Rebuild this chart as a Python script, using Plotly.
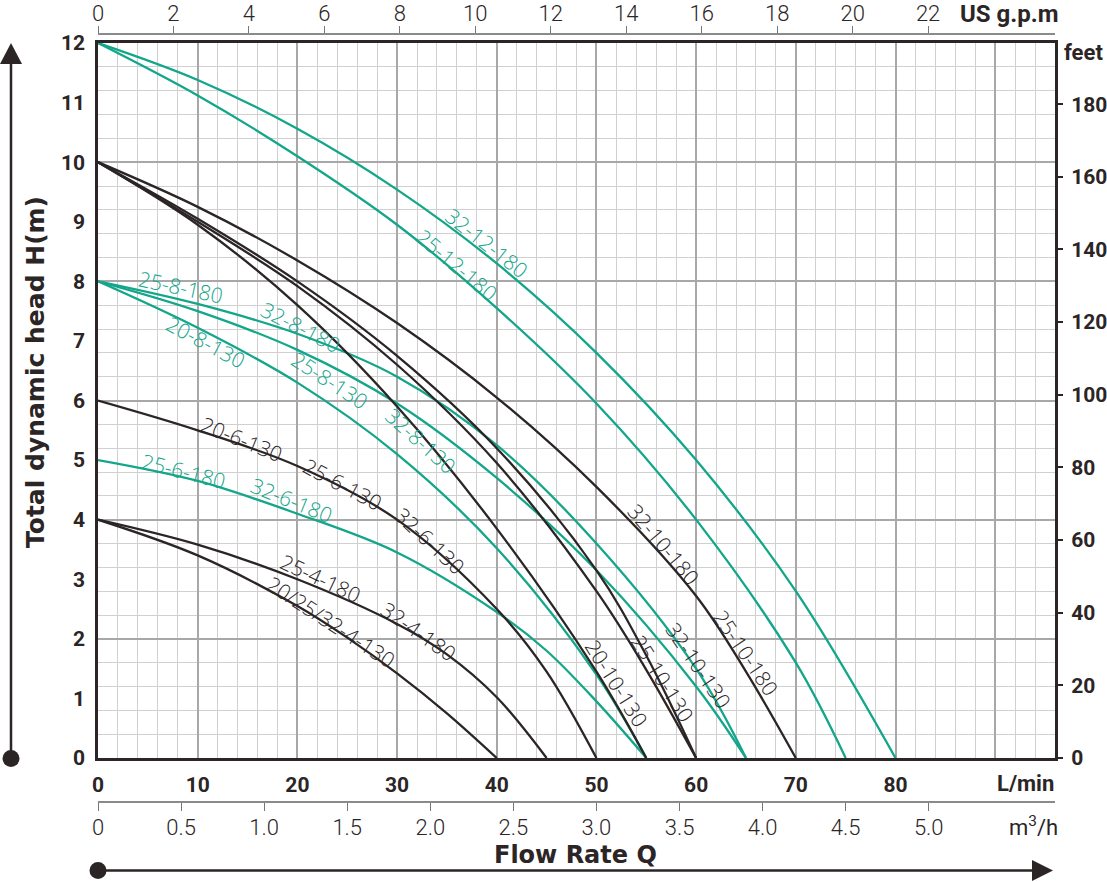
import plotly.graph_objects as go

W, H = 1107, 882
ML, MR, MT, MB = 98, 52, 34, 80
PW, PH = W - ML - MR, H - MT - MB

GREEN = "#13a68a"
BLACK = "#2b2526"

# ---------------- data (flow L/min, head m) ----------------
q_32_12_180 = [0, 10, 20, 30, 40, 50, 60, 70, 80]
h_32_12_180 = [12, 11.38, 10.56, 9.54, 8.30, 6.80, 5.0, 2.8, 0]

q_25_12_180 = [0, 10, 20, 30, 40, 50, 60, 70, 75]
h_25_12_180 = [12, 11.12, 10.1, 8.95, 7.55, 5.95, 4.0, 1.6, 0]

q_x_10_180 = [0, 10, 20, 30, 40, 50, 60, 65, 70]
h_x_10_180 = [10, 9.25, 8.35, 7.3, 6.05, 4.55, 2.72, 1.45, 0]

q_32_10_130 = [0, 10, 20, 30, 40, 50, 55, 60]
h_32_10_130 = [10, 9.05, 8.0, 6.75, 5.2, 3.15, 1.72, 0]

q_25_10_130 = [0, 10, 20, 30, 40, 50, 55, 60]
h_25_10_130 = [10, 9.0, 7.92, 6.6, 4.95, 2.8, 1.48, 0]

q_20_10_130 = [0, 10, 20, 30, 40, 50, 55]
h_20_10_130 = [10, 8.95, 7.6, 5.9, 3.85, 1.45, 0]

q_x_8_180 = [0, 10, 20, 30, 40, 50, 60, 65]
h_x_8_180 = [8, 7.62, 7.12, 6.4, 5.25, 3.6, 1.5, 0]

q_x_8_130 = [0, 10, 20, 30, 40, 50, 60, 65]
h_x_8_130 = [8, 7.5, 6.85, 5.95, 4.7, 3.15, 1.2, 0]

q_20_8_130 = [0, 10, 20, 30, 40, 50, 55]
h_20_8_130 = [8, 7.22, 6.3, 5.1, 3.52, 1.4, 0]

q_x_6_130 = [0, 10, 20, 30, 40, 45, 50]
h_x_6_130 = [6, 5.5, 4.9, 4.0, 2.5, 1.45, 0]

q_x_6_180 = [0, 10, 20, 30, 40, 45, 50, 55]
h_x_6_180 = [5, 4.65, 4.1, 3.45, 2.45, 1.8, 0.95, 0]

q_x_4_180 = [0, 10, 20, 30, 35, 40, 45]
h_x_4_180 = [4, 3.58, 3.0, 2.25, 1.74, 1.02, 0]

q_x_4_130 = [0, 10, 20, 25, 30, 35, 40]
h_x_4_130 = [4, 3.4, 2.55, 2.02, 1.42, 0.75, 0]

lmin_ticks = [0, 10, 20, 30, 40, 50, 60, 70, 80, 90]
lmin_text = ["0", "10", "20", "30", "40", "50", "60", "70", "80", ""]
head_ticks = list(range(0, 13))
feet_ticks = [0, 20, 40, 60, 80, 100, 120, 140, 160, 180]
gpm_ticks = [0, 2, 4, 6, 8, 10, 12, 14, 16, 18, 20, 22]
m3h_ticks = [0, 0.5, 1.0, 1.5, 2.0, 2.5, 3.0, 3.5, 4.0, 4.5, 5.0]
m3h_text = ["0", "0.5", "1.0", "1.5", "2.0", "2.5", "3.0", "3.5", "4.0", "4.5", "5.0"]

curves = [
    (q_32_12_180, h_32_12_180, GREEN),
    (q_25_12_180, h_25_12_180, GREEN),
    (q_x_8_180, h_x_8_180, GREEN),
    (q_x_8_130, h_x_8_130, GREEN),
    (q_20_8_130, h_20_8_130, GREEN),
    (q_x_6_180, h_x_6_180, GREEN),
    (q_x_10_180, h_x_10_180, BLACK),
    (q_32_10_130, h_32_10_130, BLACK),
    (q_25_10_130, h_25_10_130, BLACK),
    (q_20_10_130, h_20_10_130, BLACK),
    (q_x_6_130, h_x_6_130, BLACK),
    (q_x_4_180, h_x_4_180, BLACK),
    (q_x_4_130, h_x_4_130, BLACK),
]

# label placement: text, Q, H, angle, colour
labels = [
    ("32-12-180", 39.0, 8.64, 38, GREEN),
    ("25-12-180", 36.0, 8.27, 40, GREEN),
    ("25-8-180", 8.3, 7.9, 12, GREEN),
    ("32-8-180", 20.3, 7.23, 27, GREEN),
    ("20-8-130", 10.8, 6.98, 28, GREEN),
    ("25-8-130", 23.2, 6.34, 33, GREEN),
    ("32-8-130", 32.4, 5.32, 42, GREEN),
    ("25-6-180", 8.6, 4.82, 14, GREEN),
    ("32-6-180", 19.4, 4.33, 22, GREEN),
    ("20-6-130", 14.4, 5.35, 22, BLACK),
    ("25-6-130", 24.5, 4.6, 28, BLACK),
    ("32-6-130", 33.3, 3.64, 43, BLACK),
    ("25-4-180", 22.3, 3.02, 25, BLACK),
    ("32-4-180", 32.1, 2.13, 35, BLACK),
    ("20/25/32-4-130", 23.4, 2.28, 33, BLACK),
    ("32-10-180", 56.7, 3.59, 50, BLACK),
    ("25-10-180", 65.0, 1.76, 56, BLACK),
    ("32-10-130", 60.2, 1.56, 56, BLACK),
    ("25-10-130", 56.6, 1.34, 58, BLACK),
    ("20-10-130", 52.0, 1.26, 58, BLACK),
]

fig = go.Figure()

# dummy traces to register auxiliary axes
fig.add_trace(go.Scatter(x=[None], y=[None], xaxis="x", yaxis="y3", showlegend=False, hoverinfo="skip"))
fig.add_trace(go.Scatter(x=[None], y=[None], xaxis="x", yaxis="y2", showlegend=False, hoverinfo="skip"))
fig.add_trace(go.Scatter(x=[None], y=[None], xaxis="x2", yaxis="y", showlegend=False, hoverinfo="skip"))
fig.add_trace(go.Scatter(x=[None], y=[None], xaxis="x3", yaxis="y", showlegend=False, hoverinfo="skip"))

for q, h, c in curves:
    fig.add_trace(go.Scatter(x=q, y=h, mode="lines", line=dict(color=c, width=2.3, shape="spline", smoothing=1.0),
                             showlegend=False, hoverinfo="skip", xaxis="x", yaxis="y"))

LABEL_FONT = "Open Sans, Liberation Sans, Arial, sans-serif"
NARROW = "Roboto, Liberation Sans, Arial, sans-serif"
BOLDF = "Roboto, Liberation Sans, Arial, sans-serif"

annotations = []
for t, qx, hy, ang, c in labels:
    annotations.append(dict(x=qx, y=hy, xref="x", yref="y", text=t, showarrow=False, textangle=ang,
                            xanchor="center", yanchor="middle",
                            font=dict(family=LABEL_FONT, size=21, color=c, weight=300)))


def px(x):
    return (x - ML) / PW


def py(y):
    return (H - MB - y) / PH


extra_text = [
    ("US g.p.m", 1009, 14, 24, True),
    ("feet", 1083, 52, 22, True),
    ("L/min", 1025, 783, 22, True),
    ("m<sup>3</sup>/h", 1033, 826, 22, False),
]
for t, x, y, s, b in extra_text:
    annotations.append(dict(x=px(x), y=py(y), xref="paper", yref="paper", text=(f"<b>{t}</b>" if b else t),
                            showarrow=False, xanchor="center", yanchor="middle",
                            font=dict(family=NARROW, size=s, color=BLACK)))
annotations.append(dict(x=px(575), y=py(855), xref="paper", yref="paper", text="<b>Flow Rate Q</b>",
                        showarrow=False, xanchor="center", yanchor="middle",
                        font=dict(family="DejaVu Sans, sans-serif", size=24, color=BLACK)))
annotations.append(dict(x=px(35), y=py(372), xref="paper", yref="paper", text="<b>Total dynamic head H(m)</b>",
                        showarrow=False, textangle=-90, xanchor="center", yanchor="middle",
                        font=dict(family="DejaVu Sans, sans-serif", size=25, color=BLACK)))

shapes = []
# left arrow
shapes.append(dict(type="line", xref="paper", yref="paper", x0=px(11), x1=px(11), y0=py(758), y1=py(60),
                   line=dict(color=BLACK, width=2.5)))
shapes.append(dict(type="path", xref="paper", yref="paper",
                   path=f"M {px(11)} {py(43)} L {px(0)} {py(64)} L {px(22)} {py(64)} Z",
                   fillcolor=BLACK, line=dict(width=0)))
shapes.append(dict(type="circle", xref="paper", yref="paper", x0=px(2.5), x1=px(19.5), y0=py(750), y1=py(767),
                   fillcolor=BLACK, line=dict(width=0)))
# bottom arrow
shapes.append(dict(type="line", xref="paper", yref="paper", x0=px(98), x1=px(1035), y0=py(870.5), y1=py(870.5),
                   line=dict(color=BLACK, width=2.5)))
shapes.append(dict(type="path", xref="paper", yref="paper",
                   path=f"M {px(1053)} {py(870.5)} L {px(1032)} {py(860)} L {px(1032)} {py(881)} Z",
                   fillcolor=BLACK, line=dict(width=0)))
shapes.append(dict(type="circle", xref="paper", yref="paper", x0=px(89.5), x1=px(106.5), y0=py(862), y1=py(879),
                   fillcolor=BLACK, line=dict(width=0)))

ydom = [(H - MB - 758) / PH, (H - MB - 43) / PH]

fig.update_layout(
    width=W, height=H,
    margin=dict(l=ML, r=MR, t=MT, b=MB, pad=0, autoexpand=False),
    paper_bgcolor="white", plot_bgcolor="white",
    showlegend=False,
    xaxis=dict(range=[0, 96], domain=[0, 1], anchor="y", side="bottom", automargin=False,
               tickmode="array", tickvals=lmin_ticks, ticktext=lmin_text, ticks="",
               showline=True, linecolor=BLACK, linewidth=2.5, mirror=True,
               showgrid=True, gridcolor="#a8a8a8", gridwidth=1.5,
               minor=dict(dtick=2, tick0=0, showgrid=True, gridcolor="#d0d0d0", gridwidth=1),
               zeroline=False, ticklabelstandoff=6,
               tickfont=dict(family=BOLDF, size=21, color=BLACK, weight="bold")),
    yaxis=dict(range=[0, 12], domain=ydom, anchor="x", side="left", automargin=False,
               tickmode="array", tickvals=head_ticks, ticks="",
               showline=True, linecolor=BLACK, linewidth=2.5, mirror=True,
               showgrid=False, zeroline=False, ticklabelstandoff=6,
               tickfont=dict(family=BOLDF, size=21, color=BLACK, weight="bold")),
    yaxis3=dict(range=[0, 12], overlaying="y", anchor="x", side="left", automargin=False,
                tickmode="linear", tick0=0, dtick=2, showticklabels=False, ticks="",
                showgrid=True, gridcolor="#a8a8a8", gridwidth=1.5, zeroline=False, showline=False,
                minor=dict(dtick=0.4, tick0=0, showgrid=True, gridcolor="#d0d0d0", gridwidth=1)),
    yaxis2=dict(range=[0, 12 * 3.28084 * 5], overlaying="y", anchor="x", side="right", automargin=False,
                tickmode="array", tickvals=feet_ticks, ticks="outside", ticklen=7, tickwidth=1.5,
                tickcolor=BLACK, showgrid=False, zeroline=False, showline=False, ticklabelstandoff=4,
                tickfont=dict(family=BOLDF, size=21, color=BLACK, weight="bold")),
    xaxis2=dict(range=[0, 96 / 3.785], overlaying="x", anchor="free", position=1, side="top", automargin=False,
                tickmode="array", tickvals=gpm_ticks, ticks="outside", ticklen=7, tickwidth=1,
                tickcolor="#777777", showline=True, linecolor="#8a8a8a", linewidth=1.5,
                showgrid=False, zeroline=False, ticklabelstandoff=-4,
                tickfont=dict(family=NARROW, size=22, color=BLACK, weight=300)),
    xaxis3=dict(range=[0, 96 * 0.06], overlaying="x", anchor="free", position=0, side="bottom", automargin=False,
                tickmode="array", tickvals=m3h_ticks, ticktext=m3h_text, ticks="outside", ticklen=8,
                tickwidth=1, tickcolor="#777777", showline=True, linecolor="#8a8a8a", linewidth=1.5,
                showgrid=False, zeroline=False, ticklabelstandoff=-2,
                tickfont=dict(family=NARROW, size=22, color=BLACK, weight=300)),
    annotations=annotations,
    shapes=shapes,
)

fig.write_html("out.html", config={"displayModeBar": False},
               post_script="document.body.style.margin='0';document.body.style.overflow='hidden';")
